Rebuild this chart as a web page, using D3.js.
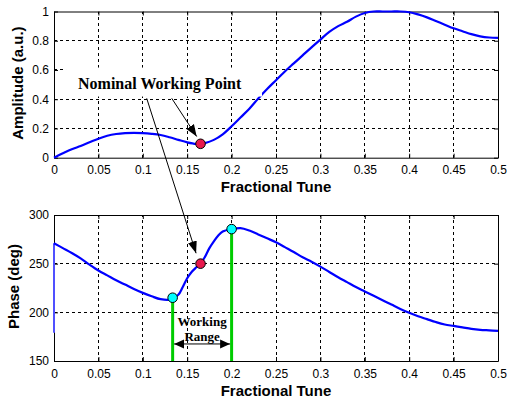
<!DOCTYPE html>
<meta charset="utf-8">
<title>Amplitude and phase vs fractional tune</title>
<body>
<script src="https://cdn.jsdelivr.net/npm/d3@7"></script>
<style>
html, body {
    margin: 0;
    background: #fff;
}

svg {
    display: block;
}

.tick text {
    font-family: "Liberation Sans", Arial, sans-serif;
    font-size: 12px;
    fill: #000;
}

.tick line, .domain {
    stroke: #000;
}

.label {
    font-family: "Liberation Sans", Arial, sans-serif;
    font-weight: bold;
    font-size: 15px;
}

.note {
    font-family: "Liberation Serif", "Times New Roman", serif;
    font-weight: bold;
}
</style>
<script>
// amplitude response vs fractional tune
var ampTune = [0, 0.01, 0.02, 0.03, 0.04, 0.05, 0.06, 0.07, 0.08, 0.09, 0.1,
    0.11, 0.12, 0.13, 0.14, 0.15, 0.16, 0.165, 0.17, 0.18, 0.19, 0.2,
    0.21, 0.22, 0.23, 0.24, 0.25, 0.26, 0.27, 0.28, 0.29, 0.3,
    0.31, 0.32, 0.33, 0.34, 0.35, 0.36, 0.37, 0.38, 0.39, 0.4,
    0.41, 0.42, 0.43, 0.44, 0.45, 0.46, 0.47, 0.48, 0.49, 0.5];
var ampValues = [0, 0.03, 0.058, 0.08, 0.105, 0.13, 0.15, 0.162, 0.168, 0.17, 0.168,
    0.163, 0.155, 0.14, 0.122, 0.105, 0.094, 0.095, 0.1, 0.122, 0.16, 0.215,
    0.275, 0.335, 0.405, 0.47, 0.53, 0.59, 0.645, 0.7, 0.755, 0.808,
    0.86, 0.9, 0.93, 0.965, 0.99, 1, 1, 1, 1, 0.995,
    0.98, 0.96, 0.935, 0.91, 0.885, 0.865, 0.845, 0.83, 0.822, 0.82];

// phase response vs fractional tune (first point is the wrap from the 0.5 end)
var phaseTune = [0, 0, 0.01, 0.02, 0.03, 0.04, 0.05, 0.06, 0.07, 0.08, 0.09, 0.1,
    0.11, 0.12, 0.13, 0.1336, 0.14, 0.145, 0.15, 0.155, 0.16, 0.165, 0.17, 0.175,
    0.18, 0.185, 0.19, 0.2, 0.21, 0.22, 0.23, 0.24, 0.25, 0.26, 0.27, 0.28, 0.29, 0.3,
    0.31, 0.32, 0.33, 0.34, 0.35, 0.36, 0.37, 0.38, 0.39, 0.4,
    0.41, 0.42, 0.43, 0.44, 0.45, 0.46, 0.47, 0.48, 0.49, 0.5];
var phaseValues = [179, 271, 266, 261, 255.5, 249, 243, 238, 233, 228.5, 224, 220,
    216.5, 213.5, 213, 215, 218, 226, 235, 241.5, 246, 250, 257, 266,
    273, 279, 283, 285.5, 286.5, 284, 280, 276, 272, 267, 262, 256.5, 252, 247,
    241.5, 236, 231, 226, 221.5, 217, 212.5, 208, 203.5, 199.5,
    196, 193, 190, 187.5, 186, 184.5, 183, 182, 181.5, 181];

var xTicks = [0, 0.05, 0.1, 0.15, 0.2, 0.25, 0.3, 0.35, 0.4, 0.45, 0.5];
var xTickLabels = ["0", "0.05", "0.1", "0.15", "0.2", "0.25", "0.3", "0.35", "0.4", "0.45", "0.5"];
var ampTicks = [0, 0.2, 0.4, 0.6, 0.8, 1];
var ampTickLabels = ["0", "0.2", "0.4", "0.6", "0.8", "1"];
var phaseTicks = [150, 200, 250, 300];
var phaseTickLabels = ["150", "200", "250", "300"];

// working point and working range
var workTune = 0.165, workAmp = 0.095, workPhase = 250;
var rangeTune = [0.1336, 0.2];
var rangePhase = [215, 285.5];

// annotations, in data units
var noteAt = [0.119, 0.473];
var noteArrowA = [[0.1326, 0.406], [0.1607, 0.145]];      // top panel
var noteArrowB = [[0.1044, 0.406], [0.1600, 260.7]];      // top panel -> bottom panel
var rangeLabelPhase = [186, 170.5];
var rangeArrowPhase = 167.5;

var width = 507,
    height = 403,
    left = 54,
    right = 498;

var x = d3.scaleLinear().domain([0, 0.5]).range([left, right]);
var yAmp = d3.scaleLinear().domain([0, 1]).range([157.7, 11.5]);
var yPhase = d3.scaleLinear().domain([150, 300]).range([361, 215]);

var svg = d3.select("body").append("svg")
    .attr("width", width)
    .attr("height", height);

var defs = svg.append("defs");
defs.append("marker")
    .attr("id", "head")
    .attr("markerUnits", "userSpaceOnUse")
    .attr("viewBox", "0 -5 12 10")
    .attr("refX", 12)
    .attr("markerWidth", 12)
    .attr("markerHeight", 10)
    .attr("orient", "auto")
    .append("path")
    .attr("d", "M0,-4.5L12,0L0,4.5Z");
defs.append("marker")
    .attr("id", "head2")
    .attr("markerUnits", "userSpaceOnUse")
    .attr("viewBox", "0 -5 10 10")
    .attr("refX", 10)
    .attr("markerWidth", 10)
    .attr("markerHeight", 10)
    .attr("orient", "auto-start-reverse")
    .append("path")
    .attr("d", "M0,-4.5L10,0L0,4.5Z");

function panel(y, yTicks, yLabels, yTitle, titleX) {
    var g = svg.append("g");
    var y0 = y.range()[0], y1 = y.range()[1];

    // dotted grid
    g.append("g").selectAll("line").data(xTicks.slice(1, -1)).enter().append("line")
        .attr("x1", x).attr("x2", x)
        .attr("y1", y0).attr("y2", y1);
    g.append("g").selectAll("line").data(yTicks.slice(1, -1)).enter().append("line")
        .attr("x1", left).attr("x2", right)
        .attr("y1", y).attr("y2", y);
    g.selectAll("line")
        .attr("stroke", "#000")
        .attr("stroke-width", 1)
        .attr("stroke-dasharray", "3,3")
        .attr("shape-rendering", "crispEdges");

    g.append("g")
        .attr("transform", "translate(0," + y0 + ")")
        .call(d3.axisBottom(x).tickValues(xTicks)
            .tickFormat(function(d, i) { return xTickLabels[i]; })
            .tickSizeInner(-4).tickSizeOuter(0).tickPadding(8));
    g.append("g")
        .attr("transform", "translate(0," + y1 + ")")
        .call(d3.axisTop(x).tickValues(xTicks).tickFormat("")
            .tickSizeInner(-4).tickSizeOuter(0));
    g.append("g")
        .attr("transform", "translate(" + left + ",0)")
        .call(d3.axisLeft(y).tickValues(yTicks)
            .tickFormat(function(d, i) { return yLabels[i]; })
            .tickSizeInner(-4).tickSizeOuter(0).tickPadding(5));
    g.append("g")
        .attr("transform", "translate(" + right + ",0)")
        .call(d3.axisRight(y).tickValues(yTicks).tickFormat("")
            .tickSizeInner(-4).tickSizeOuter(0));

    g.append("text")
        .attr("class", "label")
        .attr("x", (left + right) / 2)
        .attr("y", y0 + 34.5)
        .attr("text-anchor", "middle")
        .text("Fractional Tune");

    g.append("text")
        .attr("class", "label")
        .attr("transform", "translate(" + titleX + "," + ((y0 + y1) / 2 - 1.5) + ")rotate(-90)")
        .attr("text-anchor", "middle")
        .text(yTitle);
    return g;
}

panel(yAmp, ampTicks, ampTickLabels, "Amplitude (a.u.)", 23.3);
panel(yPhase, phaseTicks, phaseTickLabels, "Phase (deg)", 19);

// curves
var ampLine = d3.line()
    .x(function(d) { return x(d[0]); })
    .y(function(d) { return yAmp(d[1]); })
    .curve(d3.curveCatmullRom.alpha(0.5));
var phaseLine = d3.line()
    .x(function(d) { return x(d[0]); })
    .y(function(d) { return yPhase(d[1]); })
    .curve(d3.curveCatmullRom.alpha(0.5));
var phasePts = d3.zip(phaseTune, phaseValues);

svg.append("path")
    .datum(d3.zip(ampTune, ampValues))
    .attr("d", ampLine)
    .attr("fill", "none")
    .attr("stroke", "#0000ff")
    .attr("stroke-width", 2.2);

// wrap-around segment at tune 0, straight
svg.append("path")
    .datum(phasePts.slice(0, 2))
    .attr("d", phaseLine.curve(d3.curveLinear))
    .attr("fill", "none")
    .attr("stroke", "#5050ff")
    .attr("stroke-width", 2);

svg.append("path")
    .datum(phasePts.slice(1))
    .attr("d", phaseLine.curve(d3.curveCatmullRom.alpha(0.5)))
    .attr("fill", "none")
    .attr("stroke", "#0000ff")
    .attr("stroke-width", 2.2);

// working range bars
svg.selectAll(".range").data(d3.zip(rangeTune, rangePhase)).enter().append("line")
    .attr("class", "range")
    .attr("x1", function(d) { return x(d[0]); })
    .attr("x2", function(d) { return x(d[0]); })
    .attr("y1", function(d) { return yPhase(d[1]); })
    .attr("y2", yPhase(150))
    .attr("stroke", "#00cc00")
    .attr("stroke-width", 3);

// nominal working point label with white box
var note = svg.append("g");
var noteText = note.append("text")
    .attr("class", "note")
    .attr("x", x(noteAt[0]))
    .attr("y", yAmp(noteAt[1]))
    .attr("text-anchor", "middle")
    .style("font-size", "16px")
    .text("Nominal Working Point");
var bb = noteText.node().getBBox();
note.insert("rect", "text")
    .attr("x", bb.x - 12)
    .attr("y", bb.y - 7)
    .attr("width", bb.width + 32)
    .attr("height", bb.height + 11)
    .attr("fill", "#fff");

svg.append("line")
    .attr("x1", x(noteArrowA[0][0])).attr("y1", yAmp(noteArrowA[0][1]))
    .attr("x2", x(noteArrowA[1][0])).attr("y2", yAmp(noteArrowA[1][1]))
    .attr("stroke", "#000")
    .attr("marker-end", "url(#head)");
svg.append("line")
    .attr("x1", x(noteArrowB[0][0])).attr("y1", yAmp(noteArrowB[0][1]))
    .attr("x2", x(noteArrowB[1][0])).attr("y2", yPhase(noteArrowB[1][1]))
    .attr("stroke", "#000")
    .attr("marker-end", "url(#head)");

// working range label and double arrow
var midTune = (rangeTune[0] + rangeTune[1]) / 2;
svg.selectAll(".rangeLabel").data(["Working", "Range"]).enter().append("text")
    .attr("class", "note")
    .attr("x", x(midTune))
    .attr("y", function(d, i) { return yPhase(rangeLabelPhase[i]); })
    .attr("text-anchor", "middle")
    .style("font-size", "13px")
    .text(function(d) { return d; });
svg.append("line")
    .attr("x1", x(rangeTune[0]) + 1.5).attr("x2", x(rangeTune[1]) - 1.5)
    .attr("y1", yPhase(rangeArrowPhase)).attr("y2", yPhase(rangeArrowPhase))
    .attr("stroke", "#000")
    .attr("marker-start", "url(#head2)")
    .attr("marker-end", "url(#head2)");

// markers
function dot(cx, cy, fill) {
    svg.append("circle")
        .attr("cx", cx).attr("cy", cy).attr("r", 4.8)
        .attr("fill", fill)
        .attr("stroke", "#000")
        .attr("stroke-width", 1);
}
dot(x(workTune), yAmp(workAmp), "#e8184c");
dot(x(workTune), yPhase(workPhase), "#e8184c");
rangeTune.forEach(function(t, i) { dot(x(t), yPhase(rangePhase[i]), "#00ffff"); });
</script>
